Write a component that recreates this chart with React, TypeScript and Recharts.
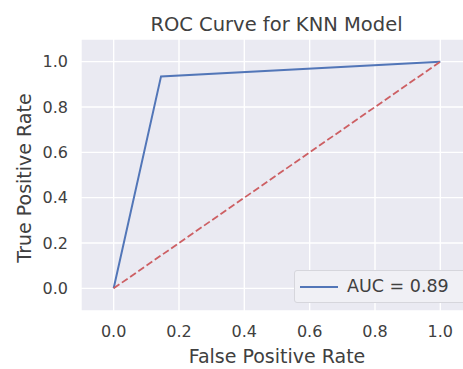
import { CartesianGrid, ComposedChart, Legend, Line, XAxis, YAxis } from 'recharts';

// ROC curve points
const fpr = [0, 0.145, 1];
const tpr = [0, 0.935, 1];
// chance diagonal
const chanceFpr = [0, 1];
const chanceTpr = [0, 1];
const axisTicks = [0, 0.2, 0.4, 0.6, 0.8, 1.0];
const auc = 0.89;

const rocData = fpr.map((x, i) => ({ x, y: tpr[i] }));
const chanceData = chanceFpr.map((x, i) => ({ x, y: chanceTpr[i] }));

const textColor = '#404040';
const font = '"DejaVu Sans", sans-serif';

const YLabel = (props: any) => {
  const { viewBox } = props;
  const x = viewBox.x + 31;
  const y = viewBox.y + viewBox.height / 2 + 3;
  return (
    <text x={x} y={y} transform={`rotate(-90 ${x} ${y})`} textAnchor='middle' fontSize={19} fill={textColor}>
      True Positive Rate
    </text>
  );
};

const renderLegend = (props: any) => {
  const items = (props.payload || []).filter((p: any) => p.type !== 'none');
  return (
    <div style={{
      width: 175, height: 33, boxSizing: 'border-box', background: '#F0F0F5',
      border: '1px solid #D6D6DC', borderRadius: 3, display: 'flex', alignItems: 'center',
    }}>
      {items.map((p: any) => (
        <div key={p.value} style={{ display: 'flex', alignItems: 'center' }}>
          <svg width={52} height={10} style={{ display: 'block' }}>
            <line x1={5} x2={43} y1={5} y2={5} stroke={p.color} strokeWidth={2} />
          </svg>
          <span style={{ fontSize: 17.5, color: textColor, lineHeight: 1 }}>{p.value}</span>
        </div>
      ))}
    </div>
  );
};

const App = () => {
  return (
    <div style={{
      position: 'absolute', left: 0, top: 0, width: 463, height: 369, overflow: 'hidden',
      background: '#fff', fontFamily: font,
    }}>
      <div style={{
        position: 'absolute', left: 81, top: 15, width: 391, textAlign: 'center',
        fontSize: 19.5, lineHeight: '19.5px', color: textColor,
      }}>
        ROC Curve for KNN Model
      </div>
      <ComposedChart width={490} height={369} margin={{ top: 39, right: 17, bottom: 0, left: 0 }}>
        <CartesianGrid fill='#EAEAF2' stroke='#fff' strokeWidth={1.4} />
        <XAxis
          dataKey='x' type='number' domain={[-0.1, 1.1]} ticks={axisTicks} allowDataOverflow
          tickFormatter={(v: number) => v.toFixed(1)} axisLine={false} tickLine={false}
          tickSize={0} tickMargin={15} height={58}
          tick={{ fontSize: 16, fill: textColor }}
          label={{ value: 'False Positive Rate', position: 'insideBottom', offset: 6, fontSize: 19, fill: textColor }}
        />
        <YAxis
          type='number' domain={[-0.1, 1.1]} ticks={axisTicks} allowDataOverflow
          tickFormatter={(v: number) => v.toFixed(1)} axisLine={false} tickLine={false}
          tickSize={0} tickMargin={13} width={81}
          tick={{ fontSize: 16, fill: textColor }}
          label={<YLabel />}
        />
        <Legend
          layout='horizontal' verticalAlign='top' align='left' content={renderLegend}
          wrapperStyle={{ position: 'absolute', left: 294, top: 270, width: 0, height: 0, overflow: 'visible' }}
        />
        <Line
          data={rocData} dataKey='y' type='linear' name={`AUC = ${auc}`}
          stroke='#5276B8' strokeWidth={2} dot={false} activeDot={false} isAnimationActive={false}
        />
        <Line
          data={chanceData} dataKey='y' type='linear' legendType='none'
          stroke='#CD5F63' strokeWidth={1.8} strokeDasharray='7 3' dot={false} activeDot={false}
          isAnimationActive={false}
        />
      </ComposedChart>
    </div>
  );
};

export default App;
